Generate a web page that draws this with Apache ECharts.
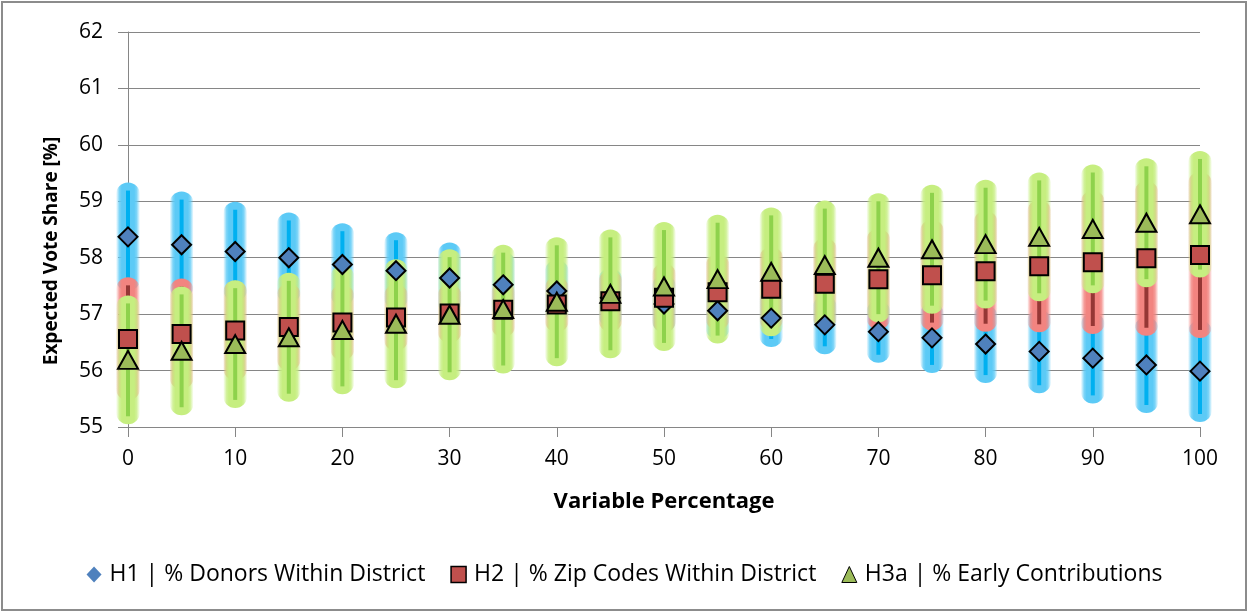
<!DOCTYPE html>
<html>
<head>
<meta charset="utf-8">
<script src="https://cdn.jsdelivr.net/npm/echarts@6/dist/echarts.min.js"></script>
<style>
  html, body { margin: 0; padding: 0; background: #fff; }
  #chart { width: 1249px; height: 613px; }
</style>
</head>
<body>
<div id="chart"></div>
<script>
// Variable percentage (x positions of the estimates)
const xValues = [0, 5, 10, 15, 20, 25, 30, 35, 40, 45, 50, 55, 60, 65, 70, 75, 80, 85, 90, 95, 100];

// H1 | % Donors Within District: expected vote share and half-width of its interval
const h1Mean = [58.37, 58.23, 58.11, 58.00, 57.88, 57.77, 57.64, 57.52, 57.41, 57.29, 57.18, 57.06, 56.93, 56.81, 56.69, 56.58, 56.47, 56.34, 56.22, 56.10, 55.99];
const h1Half = [0.82, 0.80, 0.74, 0.66, 0.59, 0.54, 0.49, 0.45, 0.41, 0.38, 0.37, 0.37, 0.37, 0.38, 0.41, 0.48, 0.55, 0.60, 0.66, 0.71, 0.76];

// H2 | % Zip Codes Within District
const h2Mean = [56.56, 56.65, 56.71, 56.77, 56.85, 56.94, 57.01, 57.08, 57.17, 57.23, 57.29, 57.39, 57.45, 57.54, 57.62, 57.69, 57.76, 57.85, 57.92, 57.99, 58.05];
const h2Half = [0.95, 0.84, 0.74, 0.63, 0.53, 0.45, 0.38, 0.35, 0.35, 0.40, 0.47, 0.53, 0.60, 0.67, 0.75, 0.84, 0.93, 1.03, 1.13, 1.23, 1.33];

// H3a | % Early Contributions
const h3Mean = [56.19, 56.35, 56.47, 56.59, 56.72, 56.83, 56.99, 57.09, 57.22, 57.36, 57.49, 57.62, 57.75, 57.87, 58.00, 58.15, 58.24, 58.37, 58.51, 58.62, 58.77];
const h3Half = [1.00, 1.00, 0.99, 1.00, 1.00, 1.00, 1.02, 1.00, 1.00, 1.00, 1.00, 1.00, 1.00, 1.00, 1.00, 1.00, 1.00, 1.00, 1.00, 1.00, 0.98];

const seriesNames = ['H1 | % Donors Within District', 'H2 | % Zip Codes Within District', 'H3a | % Early Contributions'];

const FONT = '"Open Sans", "Liberation Sans", sans-serif';
const AXIS_GRAY = '#868686';

function points(means) {
  return xValues.map((x, i) => [x, means[i]]);
}
function intervals(means, halves) {
  return xValues.map((x, i) => [x, means[i] - halves[i], means[i] + halves[i]]);
}

// Glowing interval bar: a soft, multiplied halo plus a solid core line
function glowBar(glowRGB, coreColor) {
  return function (params, api) {
    const lo = api.coord([api.value(0), api.value(1)]);
    const hi = api.coord([api.value(0), api.value(2)]);
    const cx = lo[0];
    const halo = 12;
    const inset = 4;
    const grad = new echarts.graphic.LinearGradient(cx - halo, 0, cx + halo, 0, [
      { offset: 0, color: 'rgba(' + glowRGB + ',0)' },
      { offset: 0.14, color: 'rgba(' + glowRGB + ',0.8)' },
      { offset: 0.24, color: 'rgba(' + glowRGB + ',1)' },
      { offset: 0.76, color: 'rgba(' + glowRGB + ',1)' },
      { offset: 0.86, color: 'rgba(' + glowRGB + ',0.8)' },
      { offset: 1, color: 'rgba(' + glowRGB + ',0)' }
    ], true);
    return {
      type: 'group',
      children: [
        {
          type: 'line',
          shape: { x1: cx, y1: lo[1] - inset, x2: cx, y2: hi[1] + inset },
          style: { stroke: grad, lineWidth: halo * 2, lineCap: 'round', blend: 'multiply' }
        },
        {
          type: 'line',
          shape: { x1: cx, y1: lo[1], x2: cx, y2: hi[1] },
          style: { stroke: coreColor, lineWidth: 4, lineCap: 'butt' }
        }
      ]
    };
  };
}

const chart = echarts.init(document.getElementById('chart'), null, { renderer: 'canvas' });

const markerBorder = { borderColor: '#000', borderWidth: 2 };

chart.setOption({
  backgroundColor: '#ffffff',
  animation: false,
  textStyle: { fontFamily: FONT },
  grid: { left: 128, right: 49, top: 32, bottom: 186, containLabel: false },
  xAxis: {
    type: 'value',
    min: 0, max: 100, interval: 10,
    name: 'Variable Percentage',
    nameLocation: 'middle',
    nameGap: 64,
    nameTextStyle: { fontFamily: FONT, fontSize: 22, fontWeight: 'bold', color: '#000' },
    axisLine: { show: true, lineStyle: { color: AXIS_GRAY, width: 1 } },
    axisTick: { show: true, length: 10, lineStyle: { color: AXIS_GRAY } },
    axisLabel: { margin: 22, fontFamily: FONT, fontSize: 21, color: '#000' },
    splitLine: { show: false }
  },
  yAxis: {
    type: 'value',
    min: 55, max: 62, interval: 1,
    axisLine: { show: true, lineStyle: { color: AXIS_GRAY, width: 1 } },
    axisTick: { show: true, length: 10, lineStyle: { color: AXIS_GRAY } },
    axisLabel: { margin: 25, fontFamily: FONT, fontSize: 21, color: '#000' },
    splitLine: { show: true, lineStyle: { color: AXIS_GRAY, width: 1 } }
  },
  legend: {
    data: [
      { name: seriesNames[0], icon: 'diamond', itemStyle: { borderWidth: 0 } },
      { name: seriesNames[1], icon: 'rect', itemStyle: { borderColor: '#000', borderWidth: 1.5 } },
      { name: seriesNames[2], icon: 'triangle', itemStyle: { borderColor: '#000', borderWidth: 1 } }
    ],
    left: 'center',
    top: 558,
    itemWidth: 15,
    itemHeight: 16,
    itemGap: 25,
    textStyle: { fontFamily: FONT, fontSize: 23, color: '#000', padding: [0, 0, 0, 3] }
  },
  graphic: [
    {
      type: 'rect',
      shape: { x: 2, y: 2, width: 1244, height: 608 },
      style: { fill: 'none', stroke: '#8c8c8c', lineWidth: 2 },
      z: 0, silent: true
    },
    {
      type: 'text',
      x: 52, y: 251,
      rotation: Math.PI / 2,
      style: {
        text: 'Expected Vote Share [%]',
        fontFamily: FONT, fontSize: 19, fontWeight: 'bold', fill: '#000',
        align: 'center', verticalAlign: 'middle'
      }
    }
  ],
  series: [
    {
      name: 'H1 interval', type: 'custom', z: 2,
      renderItem: glowBar('92,202,246', '#00B0F0'),
      encode: { x: 0, y: [1, 2] },
      data: intervals(h1Mean, h1Half)
    },
    {
      name: 'H2 interval', type: 'custom', z: 2,
      renderItem: glowBar('242,132,128', '#953735'),
      encode: { x: 0, y: [1, 2] },
      data: intervals(h2Mean, h2Half)
    },
    {
      name: 'H3a interval', type: 'custom', z: 2,
      renderItem: glowBar('198,238,128', '#8ED24C'),
      encode: { x: 0, y: [1, 2] },
      data: intervals(h3Mean, h3Half)
    },
    {
      name: seriesNames[0], type: 'scatter', z: 3,
      symbol: 'diamond', symbolSize: 19,
      itemStyle: Object.assign({ color: '#4F81BD', opacity: 1 }, markerBorder),
      data: points(h1Mean)
    },
    {
      name: seriesNames[1], type: 'scatter', z: 3,
      symbol: 'rect', symbolSize: 18,
      itemStyle: Object.assign({ color: '#C0504D', opacity: 1 }, markerBorder),
      data: points(h2Mean)
    },
    {
      name: seriesNames[2], type: 'scatter', z: 3,
      symbol: 'triangle', symbolSize: [20, 18],
      itemStyle: Object.assign({ color: '#9BBB59', opacity: 1 }, markerBorder),
      data: points(h3Mean)
    }
  ]
});
</script>
</body>
</html>
